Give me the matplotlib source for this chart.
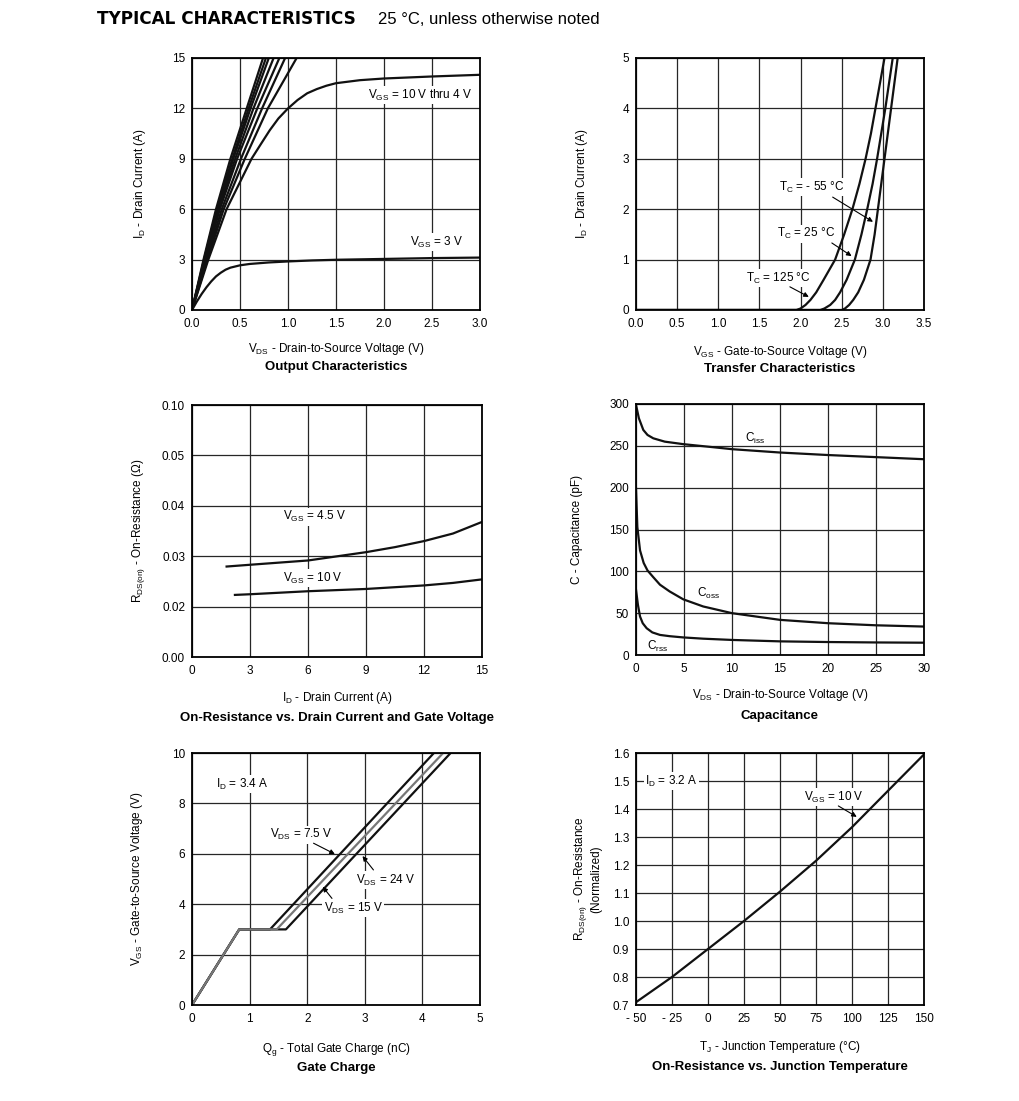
import numpy as np
import matplotlib
matplotlib.use("Agg")
import matplotlib.pyplot as plt

plt.rcParams['font.family'] = ['Liberation Sans', 'DejaVu Sans']
plt.rcParams['mathtext.default'] = 'regular'

W, H = 1020, 1101

# ---- output characteristics ----
out_id_pts = [0, 3, 6, 9, 12, 15]
out_vds_steep = [
    [0, 0.12, 0.25, 0.40, 0.57, 0.74],
    [0, 0.125, 0.26, 0.42, 0.59, 0.77],
    [0, 0.13, 0.27, 0.43, 0.61, 0.80],
    [0, 0.135, 0.28, 0.45, 0.64, 0.85],
    [0, 0.14, 0.29, 0.47, 0.68, 0.91],
    [0, 0.15, 0.31, 0.51, 0.73, 0.97],
    [0, 0.16, 0.33, 0.55, 0.79, 1.09],
]
out_vds_4v = [0, 0.17, 0.36, 0.62, 0.72, 0.81, 0.90, 1.0, 1.1, 1.2, 1.3, 1.4, 1.5,
              1.75, 2.0, 2.5, 3.0]
out_id_4v = [0, 3, 6, 9, 9.9, 10.7, 11.4, 12.0, 12.5, 12.9, 13.15, 13.35, 13.5,
             13.68, 13.78, 13.9, 14.0]
out_vds_3v = [0, 0.05, 0.1, 0.15, 0.2, 0.25, 0.3, 0.35, 0.4, 0.5, 0.6, 0.8, 1.0,
              1.25, 1.5, 2.0, 2.5, 3.0]
out_id_3v = [0, 0.5, 0.95, 1.35, 1.7, 2.0, 2.22, 2.4, 2.52, 2.66, 2.74, 2.83, 2.89,
             2.95, 2.99, 3.04, 3.09, 3.12]

# ---- transfer characteristics ----
tr_id = [0, 0, 0.03, 0.1, 0.2, 0.35, 0.6, 1.0, 1.5, 2.0, 2.5, 3.0, 3.5, 4.0, 4.5, 5.0, 5.6]
tr_vgs_125 = [0, 1.95, 2.0, 2.06, 2.12, 2.19, 2.28, 2.42, 2.53, 2.63, 2.715, 2.79, 2.855,
              2.91, 2.965, 3.02, 3.08]
tr_vgs_25 = [0, 2.24, 2.29, 2.36, 2.42, 2.48, 2.56, 2.66, 2.74, 2.81, 2.875, 2.93, 2.98,
             3.03, 3.075, 3.12, 3.17]
tr_vgs_m55 = [0, 2.50, 2.54, 2.59, 2.64, 2.70, 2.77, 2.85, 2.90, 2.94, 2.98, 3.02, 3.06,
              3.10, 3.14, 3.18, 3.23]

# ---- on-resistance vs drain current ----
rds_id_45 = [1.79, 3, 6, 9, 10.5, 12, 13.5, 15]
rds_45 = [0.02795, 0.0283, 0.02915, 0.0308, 0.0318, 0.0330, 0.0345, 0.0368]
rds_id_10 = [2.22, 3, 6, 9, 12, 13.5, 15]
rds_10 = [0.02232, 0.02245, 0.02305, 0.0235, 0.0242, 0.0247, 0.0254]
rds_ticks = [0.00, 0.02, 0.03, 0.04, 0.05, 0.10]
rds_ticklabels = ['0.00', '0.02', '0.03', '0.04', '0.05', '0.10']

# ---- capacitance ----
cap_v_iss = [0, 0.3, 0.76, 1.2, 1.8, 3, 4.93, 7.5, 10, 15, 20, 25, 30]
cap_iss = [299, 283, 269, 263, 259, 255, 252, 249, 246, 242, 239, 236.5, 234]
cap_v_oss = [0, 0.14, 0.42, 0.8, 1.2, 1.8, 2.5, 3.5, 4.93, 7, 10, 15, 20, 25, 30]
cap_oss = [199, 153, 125, 110, 101, 93, 84, 76, 66.5, 58, 50, 42, 38, 35.5, 34]
cap_v_rss = [0, 0.2, 0.42, 0.7, 1.11, 1.7, 2.5, 3.5, 4.93, 7, 10, 15, 20, 25, 30]
cap_rss = [78, 60, 46, 38, 32, 27, 24, 22.5, 21, 19.5, 18, 16.3, 15.5, 15, 14.7]

# ---- gate charge ----
qg_75 = [0, 0.82, 1.354, 4.20]
qg_15 = [0, 0.82, 1.47, 4.36]
qg_24 = [0, 0.82, 1.63, 4.49]
vgs_gc = [0, 3, 3, 10]

# ---- normalized on-resistance vs temperature ----
tj = [-50, -25, 0, 25, 50, 75, 100, 125, 150]
rds_norm = [0.71, 0.80, 0.90, 1.0, 1.105, 1.215, 1.335, 1.465, 1.595]
tj_ticklabels = ['- 50', '- 25', '0', '25', '50', '75', '100', '125', '150']

FS = 8.5
LW = 1.6
WB = dict(facecolor='white', edgecolor='none', pad=1)

fig = plt.figure(figsize=(W / 100, H / 100), dpi=100)


def make_ax(l, t, r, b):
    ax = fig.add_axes([l / W, 1 - b / H, (r - l) / W, (b - t) / H])
    ax.grid(True, color='#262626', lw=0.9)
    ax.set_axisbelow(True)
    ax.tick_params(length=0, labelsize=FS, pad=5.5)
    ax.tick_params(axis='y', pad=5)
    for s in ax.spines.values():
        s.set_linewidth(1.3)
    return ax


def labels(ax, xl, yl, title, ylx, xly, ty):
    ax.set_xlabel(xl, fontsize=FS)
    ax.xaxis.set_label_coords(0.5, xly)
    ax.xaxis.label.set_va('center')
    ax.set_ylabel(yl, fontsize=FS, va='center', ha='center')
    ax.yaxis.set_label_coords(ylx, 0.5)
    ax.text(0.5, ty, title, transform=ax.transAxes, ha='center', va='center',
            fontsize=9.5, fontweight='bold')


def arrow(ax, start, end):
    ax.annotate('', xy=end, xytext=start,
                arrowprops=dict(arrowstyle='-|>', color='k', lw=0.8, mutation_scale=7,
                                shrinkA=0, shrinkB=0))


fig.text(97 / W, 1 - 19 / H, 'TYPICAL CHARACTERISTICS', fontsize=12.2, fontweight='heavy',
         family='DejaVu Sans', va='center', ha='left')
fig.text(378 / W, 1 - 19 / H, '25 °C, unless otherwise noted', fontsize=12, va='center', ha='left')

# Output characteristics
ax1 = make_ax(192, 58, 480, 310)
for v in out_vds_steep:
    ax1.plot(v, out_id_pts, color='#111', lw=LW)
ax1.plot(out_vds_4v, out_id_4v, color='#111', lw=LW)
ax1.plot(out_vds_3v, out_id_3v, color='#111', lw=LW)
ax1.set_xlim(0, 3)
ax1.set_ylim(0, 15)
ax1.set_xticks(np.arange(0, 3.01, 0.5))
ax1.set_xticklabels(['0.0', '0.5', '1.0', '1.5', '2.0', '2.5', '3.0'])
ax1.set_yticks([0, 3, 6, 9, 12, 15])
ax1.text(1.83, 12.8, 'V$_{GS}$ = 10 V thru 4 V', fontsize=FS, va='center', bbox=WB)
ax1.text(2.27, 4.05, 'V$_{GS}$ = 3 V', fontsize=FS, va='center', bbox=WB)
labels(ax1, 'V$_{DS}$ - Drain-to-Source Voltage (V)', 'I$_{D}$ - Drain Current (A)',
       'Output Characteristics', -0.181, -0.155, -0.226)

# Transfer characteristics
ax2 = make_ax(636, 58, 924, 310)
for v in (tr_vgs_125, tr_vgs_25, tr_vgs_m55):
    ax2.plot(v, tr_id, color='#111', lw=LW)
ax2.set_xlim(0, 3.5)
ax2.set_ylim(0, 5)
ax2.set_xticks(np.arange(0, 3.51, 0.5))
ax2.set_xticklabels(['0.0', '0.5', '1.0', '1.5', '2.0', '2.5', '3.0', '3.5'])
ax2.set_yticks([0, 1, 2, 3, 4, 5])
ax2.text(2.14, 2.44, 'T$_{C}$ = - 55 °C', fontsize=FS, ha='center', va='center', bbox=WB)
ax2.text(2.07, 1.51, 'T$_{C}$ = 25 °C', fontsize=FS, ha='center', va='center', bbox=WB)
ax2.text(1.73, 0.63, 'T$_{C}$ = 125 °C', fontsize=FS, ha='center', va='center', bbox=WB)
arrow(ax2, (2.39, 2.24), (2.88, 1.75))
arrow(ax2, (2.38, 1.33), (2.62, 1.07))
arrow(ax2, (1.87, 0.46), (2.10, 0.26))
labels(ax2, 'V$_{GS}$ - Gate-to-Source Voltage (V)', 'I$_{D}$ - Drain Current (A)',
       'Transfer Characteristics', -0.1875, -0.167, -0.234)

# On-resistance vs drain current (non-uniform y axis)
ax3 = make_ax(192, 405, 482, 657)
rv = [0, 0.02, 0.05, 0.10]
rp = [0, 1, 4, 5]
ax3.set_yscale('function', functions=(lambda v: np.interp(v, rv, rp),
                                      lambda p: np.interp(p, rp, rv)))
ax3.plot(rds_id_45, rds_45, color='#111', lw=LW)
ax3.plot(rds_id_10, rds_10, color='#111', lw=LW)
ax3.set_xlim(0, 15)
ax3.set_ylim(0, 0.10)
ax3.set_xticks([0, 3, 6, 9, 12, 15])
ax3.set_yticks(rds_ticks)
ax3.set_yticklabels(rds_ticklabels)
ax3.minorticks_off()
ax3.text(6.36, 0.0378, 'V$_{GS}$ = 4.5 V', fontsize=FS, ha='center', va='center', bbox=WB)
ax3.text(6.26, 0.0256, 'V$_{GS}$ = 10 V', fontsize=FS, ha='center', va='center', bbox=WB)
labels(ax3, 'I$_{D}$ - Drain Current (A)', 'R$_{DS(on)}$ - On-Resistance (Ω)',
       'On-Resistance vs. Drain Current and Gate Voltage', -0.186, -0.163, -0.242)

# Capacitance
ax4 = make_ax(636, 404, 924, 655)
ax4.plot(cap_v_iss, cap_iss, color='#111', lw=LW)
ax4.plot(cap_v_oss, cap_oss, color='#111', lw=LW)
ax4.plot(cap_v_rss, cap_rss, color='#111', lw=LW)
ax4.set_xlim(0, 30)
ax4.set_ylim(0, 300)
ax4.set_xticks(np.arange(0, 31, 5))
ax4.set_yticks(np.arange(0, 301, 50))
ax4.text(12.4, 259, 'C$_{iss}$', fontsize=FS, ha='center', va='center')
ax4.text(7.6, 73, 'C$_{oss}$', fontsize=FS, ha='center', va='center')
ax4.text(2.3, 10.8, 'C$_{rss}$', fontsize=FS, ha='center', va='center')
labels(ax4, 'V$_{DS}$ - Drain-to-Source Voltage (V)', 'C - Capacitance (pF)',
       'Capacitance', -0.205, -0.159, -0.243)

# Gate charge
ax5 = make_ax(192, 753, 480, 1005)
ax5.plot(qg_75, vgs_gc, color='#111', lw=LW)
ax5.plot(qg_24, vgs_gc, color='#111', lw=LW)
ax5.plot(qg_15, vgs_gc, color='#777', lw=LW)
ax5.set_xlim(0, 5)
ax5.set_ylim(0, 10)
ax5.set_xticks([0, 1, 2, 3, 4, 5])
ax5.set_yticks([0, 2, 4, 6, 8, 10])
ax5.text(0.42, 8.77, 'I$_{D}$ = 3.4 A', fontsize=FS, va='center', bbox=WB)
ax5.text(1.9, 6.75, 'V$_{DS}$ = 7.5 V', fontsize=FS, ha='center', va='center', bbox=WB)
ax5.text(3.37, 4.96, 'V$_{DS}$ = 24 V', fontsize=FS, ha='center', va='center', bbox=WB)
ax5.text(2.80, 3.85, 'V$_{DS}$ = 15 V', fontsize=FS, ha='center', va='center', bbox=WB)
arrow(ax5, (2.11, 6.42), (2.48, 5.99))
arrow(ax5, (3.15, 5.36), (2.96, 5.91))
arrow(ax5, (2.43, 4.23), (2.27, 4.69))
labels(ax5, 'Q$_{g}$ - Total Gate Charge (nC)', 'V$_{GS}$ - Gate-to-Source Voltage (V)',
       'Gate Charge', -0.191, -0.175, -0.25)

# Normalized on-resistance vs junction temperature
ax6 = make_ax(636, 753, 924, 1005)
ax6.plot(tj, rds_norm, color='#111', lw=LW)
ax6.set_xlim(-50, 150)
ax6.set_ylim(0.7, 1.6)
ax6.set_xticks(tj)
ax6.set_xticklabels(tj_ticklabels)
ax6.set_yticks(np.round(np.arange(0.7, 1.61, 0.1), 1))
ax6.text(-43.75, 1.5, 'I$_{D}$ = 3.2 A', fontsize=FS, va='center', bbox=WB)
ax6.text(87.5, 1.443, 'V$_{GS}$ = 10 V', fontsize=FS, ha='center', va='center', bbox=WB)
arrow(ax6, (90.5, 1.411), (103.3, 1.372))
labels(ax6, 'T$_{J}$ - Junction Temperature (°C)',
       'R$_{DS(on)}$ - On-Resistance\n(Normalized)',
       'On-Resistance vs. Junction Temperature', -0.170, -0.167, -0.246)

fig.savefig('out.png', dpi=100)
